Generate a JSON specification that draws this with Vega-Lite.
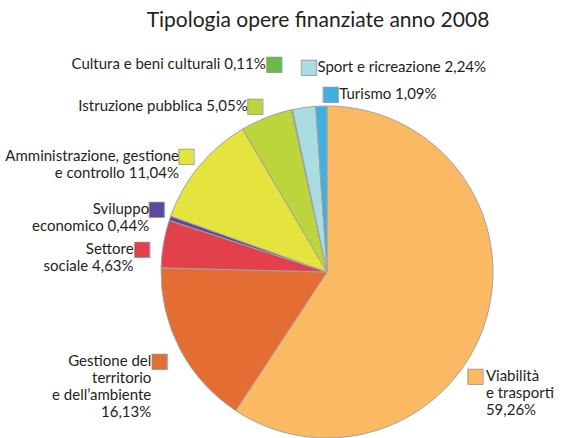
{
  "$schema": "https://vega.github.io/schema/vega-lite/v6.json",
  "width": 332,
  "height": 332,
  "autosize": "none",
  "padding": {"left": 161, "top": 106, "right": 68, "bottom": 0},
  "background": "white",
  "title": {
    "text": "Tipologia opere finanziate anno 2008",
    "frame": "group",
    "anchor": "middle",
    "baseline": "alphabetic",
    "offset": 1,
    "dx": -9,
    "font": "Lato",
    "fontSize": 21,
    "fontWeight": "normal",
    "color": "#231f20"
  },
  "config": {"view": {"stroke": null}},
  "data": {
    "values": [
      {"rank": 1, "cat": "Viabilità", "label": "Viabilità\ne trasporti\n59,26%", "pct": 59.26},
      {"rank": 2, "cat": "Gestione", "label": "Gestione del\nterritorio\ne dell’ambiente\n16,13%", "pct": 16.13},
      {"rank": 3, "cat": "Settore", "label": "Settore\nsociale 4,63%", "pct": 4.63},
      {"rank": 4, "cat": "Sviluppo", "label": "Sviluppo\neconomico 0,44%", "pct": 0.44},
      {"rank": 5, "cat": "Amministrazione", "label": "Amministrazione, gestione\ne controllo 11,04%", "pct": 11.04},
      {"rank": 6, "cat": "Istruzione", "label": "Istruzione pubblica 5,05%", "pct": 5.05},
      {"rank": 7, "cat": "Cultura", "label": "Cultura e beni culturali 0,11%", "pct": 0.11},
      {"rank": 8, "cat": "Sport", "label": "Sport e ricreazione 2,24%", "pct": 2.24},
      {"rank": 9, "cat": "Turismo", "label": "Turismo 1,09%", "pct": 1.09}
    ]
  },
  "encoding": {
    "theta": {"field": "pct", "type": "quantitative", "stack": true},
    "order": {"field": "rank", "type": "quantitative"},
    "color": {
      "field": "cat",
      "type": "nominal",
      "legend": null,
      "scale": {
        "domain": ["Viabilità", "Gestione", "Settore", "Sviluppo", "Amministrazione", "Istruzione", "Cultura", "Sport", "Turismo"],
        "range": ["#fbb964", "#e46d34", "#e2404a", "#5c4a9e", "#e5e33e", "#bdd53d", "#6cb84b", "#a9dde1", "#3fb0df"]
      }
    }
  },
  "layer": [
    {
      "mark": {"type": "arc", "stroke": "#a3a3a3", "strokeWidth": 1},
      "encoding": {}
    },
    {
      "mark": {"type": "text", "radius": 178, "align": "right", "baseline": "top", "font": "DejaVu Sans", "fontSize": 20, "stroke": "#999999", "strokeWidth": 0.8, "dy": -3},
      "encoding": {"text": {"condition": {"test": "indexof(['Gestione','Settore'], datum.cat) >= 0", "value": "■"}, "value": ""}}
    },
    {
      "mark": {"type": "text", "radius": 178, "align": "right", "baseline": "top", "dx": -18, "font": "Lato", "fontSize": 15, "lineHeight": 17, "lineBreak": "\n"},
      "encoding": {"color": {"value": "#231f20"}, "text": {"condition": {"test": "indexof(['Gestione','Settore'], datum.cat) >= 0", "field": "label"}, "value": ""}}
    },
    {
      "mark": {"type": "text", "radius": 170, "align": "right", "baseline": "bottom", "font": "DejaVu Sans", "fontSize": 20, "stroke": "#999999", "strokeWidth": 0.8, "dy": 2},
      "encoding": {"text": {"condition": {"test": "indexof(['Sviluppo','Amministrazione','Istruzione'], datum.cat) >= 0", "value": "■"}, "value": ""}}
    },
    {
      "mark": {"type": "text", "radius": 170, "align": "right", "baseline": "bottom", "dx": -17, "font": "Lato", "fontSize": 15, "lineHeight": 17, "lineBreak": "\n"},
      "encoding": {"color": {"value": "#231f20"}, "text": {"condition": {"test": "indexof(['Sviluppo','Amministrazione','Istruzione'], datum.cat) >= 0", "field": "label"}, "value": ""}}
    },
    {
      "mark": {"type": "text", "radius": 205, "align": "right", "baseline": "bottom", "font": "DejaVu Sans", "fontSize": 20, "stroke": "#999999", "strokeWidth": 0.8, "dy": 2},
      "encoding": {"text": {"condition": {"test": "datum.cat === 'Cultura'", "value": "■"}, "value": ""}}
    },
    {
      "mark": {"type": "text", "radius": 205, "align": "right", "baseline": "bottom", "dx": -18, "font": "Lato", "fontSize": 15, "lineHeight": 17, "lineBreak": "\n"},
      "encoding": {"color": {"value": "#231f20"}, "text": {"condition": {"test": "datum.cat === 'Cultura'", "field": "label"}, "value": ""}}
    },
    {
      "mark": {"type": "text", "radius": 199, "align": "left", "baseline": "bottom", "font": "DejaVu Sans", "fontSize": 20, "stroke": "#999999", "strokeWidth": 0.8, "dy": 2},
      "encoding": {"text": {"condition": {"test": "datum.cat === 'Sport'", "value": "■"}, "value": ""}}
    },
    {
      "mark": {"type": "text", "radius": 199, "align": "left", "baseline": "bottom", "dx": 18, "font": "Lato", "fontSize": 15, "lineHeight": 17, "lineBreak": "\n"},
      "encoding": {"color": {"value": "#231f20"}, "text": {"condition": {"test": "datum.cat === 'Sport'", "field": "label"}, "value": ""}}
    },
    {
      "mark": {"type": "text", "radius": 170, "align": "left", "baseline": "bottom", "font": "DejaVu Sans", "fontSize": 20, "stroke": "#999999", "strokeWidth": 0.8, "dy": 2},
      "encoding": {"text": {"condition": {"test": "datum.cat === 'Turismo'", "value": "■"}, "value": ""}}
    },
    {
      "mark": {"type": "text", "radius": 170, "align": "left", "baseline": "bottom", "dx": 18, "font": "Lato", "fontSize": 15, "lineHeight": 17, "lineBreak": "\n"},
      "encoding": {"color": {"value": "#231f20"}, "text": {"condition": {"test": "datum.cat === 'Turismo'", "field": "label"}, "value": ""}}
    },
    {
      "mark": {"type": "text", "radius": 145, "align": "left", "baseline": "top", "font": "DejaVu Sans", "fontSize": 20, "stroke": "#999999", "strokeWidth": 0.8, "dy": 52},
      "encoding": {"text": {"condition": {"test": "datum.cat === 'Viabilità'", "value": "■"}, "value": ""}}
    },
    {
      "mark": {"type": "text", "radius": 145, "align": "left", "baseline": "top", "dx": 20, "dy": 55, "font": "Lato", "fontSize": 15, "lineHeight": 17, "lineBreak": "\n"},
      "encoding": {"color": {"value": "#231f20"}, "text": {"condition": {"test": "datum.cat === 'Viabilità'", "field": "label"}, "value": ""}}
    }
  ]
}
